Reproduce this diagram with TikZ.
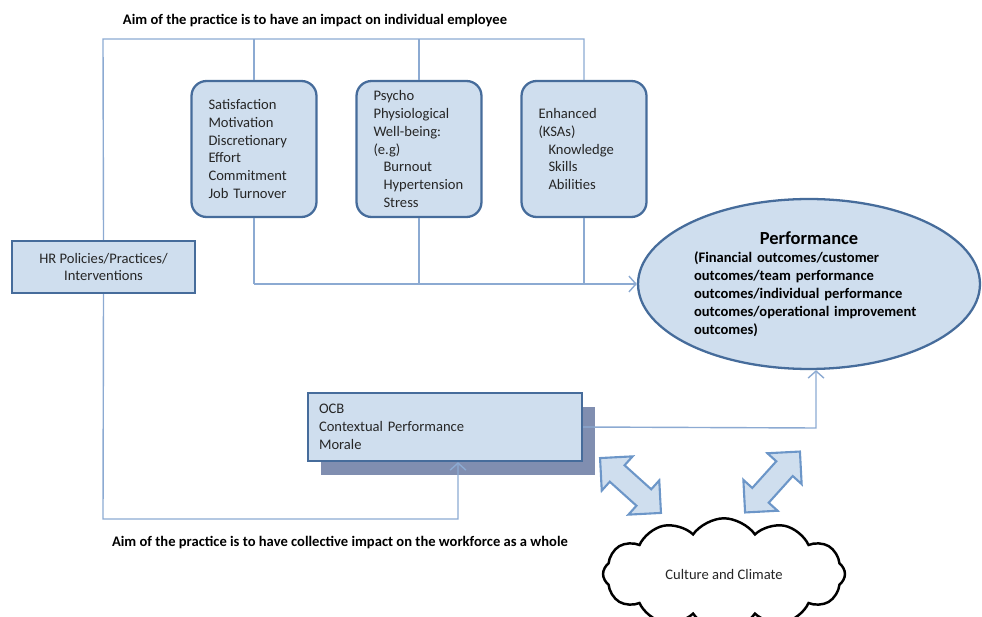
\documentclass[tikz,border=0pt]{standalone}
\usepackage{fontspec}
\setmainfont{Carlito}
\usetikzlibrary{shapes.geometric,shapes.arrows,shapes.symbols,arrows.meta}

\begin{document}
\begin{tikzpicture}[x=0.02cm,y=-0.02cm]
    % Node styles
    \tikzstyle{none}=[inner sep=0mm]
    \tikzstyle{title}=[inner sep=0mm, font=\bfseries\fontsize{8.3}{10.2}\selectfont]
    \tikzstyle{rounded box}=[fill={rgb,255: red,207; green,222; blue,238}, draw={rgb,255: red,70; green,108; blue,155}, line width=1.3pt, shape=rectangle, rounded corners=0.3cm, minimum width=2.5cm, minimum height=2.72cm, text width=1.82cm, align=left, inner sep=0mm, text={rgb,255: red,38; green,38; blue,38}, font=\fontsize{8.3}{10.2}\selectfont]
    \tikzstyle{flat box}=[fill={rgb,255: red,207; green,222; blue,238}, draw={rgb,255: red,70; green,108; blue,155}, line width=1.3pt, shape=rectangle, minimum width=3.66cm, minimum height=1.04cm, align=center, inner sep=0mm, text={rgb,255: red,38; green,38; blue,38}, font=\fontsize{8.3}{10.2}\selectfont]
    \tikzstyle{wide box}=[fill={rgb,255: red,207; green,222; blue,238}, draw={rgb,255: red,70; green,108; blue,155}, line width=1.3pt, shape=rectangle, minimum width=5.48cm, minimum height=1.36cm, text width=5.04cm, align=left, inner sep=0mm, text={rgb,255: red,38; green,38; blue,38}, font=\fontsize{8.3}{10.2}\selectfont]
    \tikzstyle{shadow box}=[fill={rgb,255: red,128; green,142; blue,176}, shape=rectangle, minimum width=5.48cm, minimum height=1.36cm]
    \tikzstyle{outcome ellipse}=[fill={rgb,255: red,207; green,222; blue,238}, draw={rgb,255: red,70; green,108; blue,155}, line width=1.3pt, shape=ellipse, minimum width=6.84cm, minimum height=3.4cm, text width=4.6cm, align=left, inner sep=0mm, font=\bfseries\fontsize{8.3}{10.2}\selectfont]
    \tikzstyle{fat arrow}=[fill={rgb,255: red,207; green,222; blue,238}, draw={rgb,255: red,108; green,150; blue,200}, line width=1.2pt, shape=double arrow, double arrow head extend=0.24cm, minimum width=0.88cm, minimum height=1.64cm, inner sep=0.2cm]
    \tikzstyle{culture cloud}=[fill=white, draw=black, line width=1.4pt, shape=cloud, cloud puffs=12, cloud puff arc=110, aspect=1.8, minimum width=4.84cm, minimum height=2.2cm, inner sep=0mm, text={rgb,255: red,38; green,38; blue,38}, font=\fontsize{8.3}{10.2}\selectfont]
    % Edge styles
    \tikzstyle{line}=[draw={rgb,255: red,140; green,170; blue,210}, line width=0.8pt]
    \tikzstyle{arrow}=[->, >={Straight Barb[length=4pt,width=9pt]}, draw={rgb,255: red,140; green,170; blue,210}, line width=0.8pt]

    \clip (0, 0) rectangle (982, 617);

    \node [style=outcome ellipse] (0) at (809, 284) {\makebox[4.6cm][c]{\fontsize{10.5}{12}\selectfont Performance}\\(Financial outcomes/customer\\outcomes/team performance\\outcomes/individual performance\\outcomes/operational improvement\\outcomes)};
    \node [style=flat box] (1) at (103.5, 267) {HR Policies/Practices/\\Interventions};
    \node [style=rounded box] (2) at (254, 149) {Satisfaction\\Motivation\\Discretionary\\Effort\\Commitment\\Job Turnover};
    \node [style=rounded box] (3) at (419, 149) {Psycho\\Physiological\\Well-being:\\(e.g)\\\hspace*{0.2cm}Burnout\\\hspace*{0.2cm}Hypertension\\\hspace*{0.2cm}Stress};
    \node [style=rounded box] (4) at (584, 149) {Enhanced\\(KSAs)\\\hspace*{0.2cm}Knowledge\\\hspace*{0.2cm}Skills\\\hspace*{0.2cm}Abilities};
    \node [style=shadow box] (5) at (458, 441) {};
    \node [style=wide box] (6) at (445, 427) {OCB\\Contextual Performance\\Morale};
    \node [style=title] (7) at (315, 21) {Aim of the practice is to have an impact on individual employee};
    \node [style=title] (8) at (340, 543) {Aim of the practice is to have collective impact on the workforce as a whole};
    \node [style=fat arrow, rotate=-42] (9) at (630.5, 485.5) {};
    \node [style=fat arrow, rotate=48] (10) at (772.5, 482) {};
    \node [style=culture cloud] (11) at (724, 574) {Culture and Climate};
    \node [style=none] (12) at (103, 39) {};
    \node [style=none] (13) at (254, 39) {};
    \node [style=none] (14) at (419, 39) {};
    \node [style=none] (15) at (584, 39) {};
    \node [style=none] (16) at (254, 284) {};
    \node [style=none] (17) at (419, 284) {};
    \node [style=none] (18) at (584, 284) {};
    \node [style=none] (19) at (103, 519) {};
    \node [style=none] (20) at (458, 519) {};
    \node [style=none] (21) at (816, 428) {};

    \draw [style=line] (1.north) to (12.center) to (15.center) to (4.north);
    \draw [style=line] (13.center) to (2.north);
    \draw [style=line] (14.center) to (3.north);
    \draw [style=line] (2.south) to (16.center);
    \draw [style=line] (3.south) to (17.center);
    \draw [style=line] (4.south) to (18.center);
    \draw [style=arrow] (16.center) to (0.west);
    \draw [style=arrow] (1.south) to (19.center) to (20.center) to (20.center |- 6.south);
    \draw [style=arrow] (6.east) to (21.center) to (21.center |- 0.south);
\end{tikzpicture}
\end{document}
